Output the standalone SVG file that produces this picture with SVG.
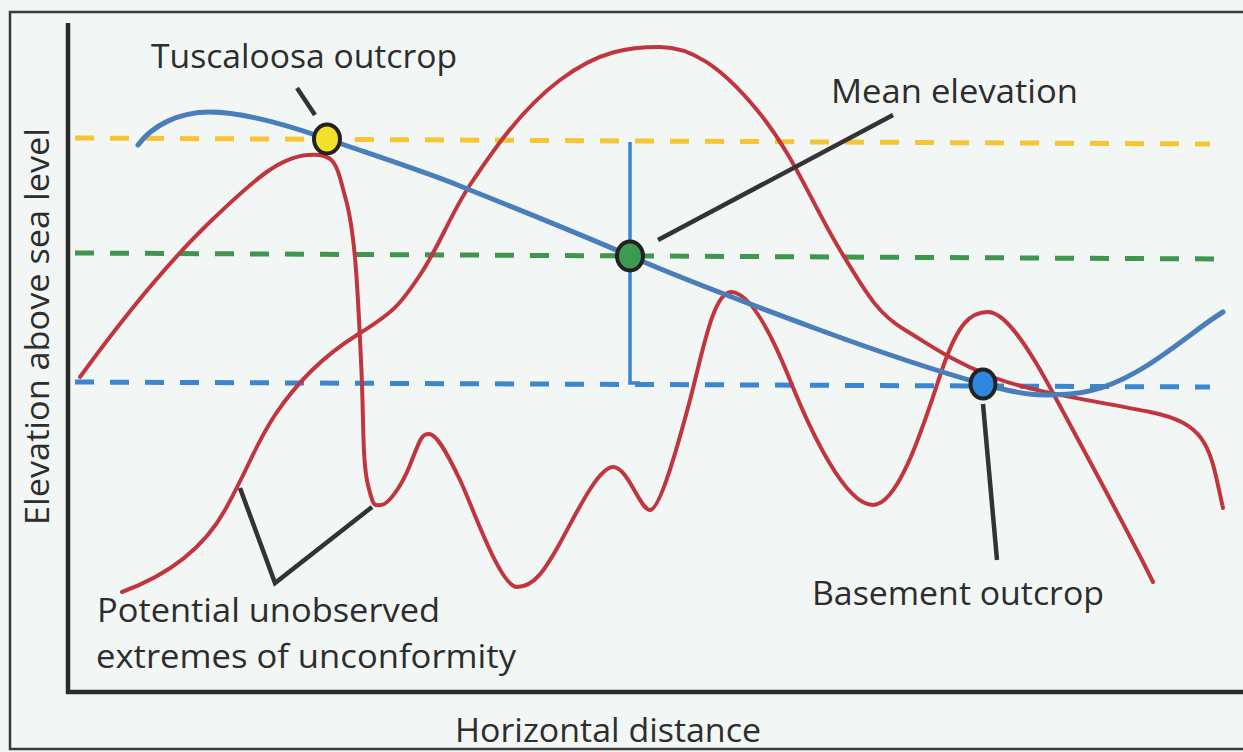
<svg xmlns="http://www.w3.org/2000/svg" width="1243" height="752" viewBox="0 0 1243 752">
<style>
.lbl{font-family:"Open Sans","Liberation Sans",sans-serif;font-size:32px;fill:#2d2d2d}
.frame{fill:none;stroke:#3a3a3a;stroke-width:2.5}
.axis{fill:none;stroke:#2a2a2a;stroke-width:4.5}
.dash{fill:none;stroke-width:5;stroke-dasharray:19 16}
.red{fill:none;stroke:#C0353E;stroke-width:4;stroke-linecap:round;stroke-linejoin:round}
.topo{fill:none;stroke:#4A7EBB;stroke-width:5;stroke-linecap:round}
.lead{fill:none;stroke:#333;stroke-width:4.5}
.pt{stroke:#222;stroke-width:4}
</style>
<rect x="0" y="0" width="1243" height="752" fill="#F2F7F5"/>
<g id="frame">
<path class="frame" d="M1245,12 H10 V749 H1245"/>
</g>
<g id="axes">
<line class="axis" x1="68" y1="23" x2="68" y2="694"/>
<line class="axis" x1="66" y1="692" x2="1243" y2="692"/>
</g>
<g id="reference-lines">
<line class="dash" stroke="#F7C531" x1="75" y1="138" x2="1210" y2="144"/>
<line class="dash" stroke="#40964F" x1="75" y1="253" x2="1222" y2="259"/>
<line class="dash" stroke="#3A86D0" x1="75" y1="382" x2="1210" y2="387"/>
<path fill="none" stroke="#3A86D0" stroke-width="3.5" d="M630,142 V383 H640"/>
</g>
<g id="unconformity-curves">
<path class="red" d="M80,377 C120,322 168,262 212,220 S280,157 308,155 S336,163 346,200 S358,300 361,360 S362,460 368,485 S375,505 381,505 S400,490 410,465 S421,434 429,434 S448,455 460,480 S500,587 517,587 S545,570 560,543 S598,467 613,467 S640,510 650,510 S678,445 690,400 S713,292 731,292 S770,330 790,380 S845,505 873,505 S928,410 943,367 S970,312 988,312 S1030,350 1053,393 S1125,525 1153,582"/>
<path class="red" d="M122,592 C160,578 200,555 225,510 S255,445 275,415 S320,358 357,335 S400,305 420,275 S450,215 470,185 S520,110 560,80 S630,47 660,47 S720,65 757,110 S810,200 840,250 S880,315 905,330 S950,360 990,376 S1090,400 1150,412 S1210,450 1223,508"/>
</g>
<g id="topography">
<path class="topo" d="M138,145 C152,126 178,112 210,112 S290,126 327,139 S420,170 460,186 S580,234 630,256 S760,308 817,329 S940,372 983,384 S1040,396 1070,394 S1130,378 1160,357 S1205,323 1223,312"/>
</g>
<g id="connectors">
<line class="lead" x1="297" y1="88" x2="315" y2="115"/>
<line class="lead" x1="893" y1="115" x2="658" y2="240"/>
<line class="lead" x1="983" y1="404" x2="997" y2="560"/>
<polyline class="lead" points="240,488 275,583 372,507"/>
</g>
<g id="tuscaloosa-outcrop">
<ellipse class="pt" cx="327" cy="139" rx="13" ry="14.5" fill="#F4E02A"/>
<text class="lbl" x="151" y="68" textLength="306" lengthAdjust="spacingAndGlyphs">Tuscaloosa outcrop</text>
</g>
<g id="mean-elevation">
<ellipse class="pt" cx="630" cy="256" rx="13" ry="14.5" fill="#3E9A52"/>
<text class="lbl" x="831" y="103" textLength="247" lengthAdjust="spacingAndGlyphs">Mean elevation</text>
</g>
<g id="basement-outcrop">
<ellipse class="pt" cx="983" cy="384" rx="12.5" ry="14.5" fill="#2E86DE"/>
<text class="lbl" x="812" y="605" textLength="292" lengthAdjust="spacingAndGlyphs">Basement outcrop</text>
</g>
<g id="unobserved-extremes">
<text class="lbl" x="97" y="622" textLength="343" lengthAdjust="spacingAndGlyphs">Potential unobserved</text>
<text class="lbl" x="96" y="668" textLength="420" lengthAdjust="spacingAndGlyphs">extremes of unconformity</text>
</g>
<g id="axis-labels">
<text class="lbl" transform="translate(49,525) rotate(-90)" x="0" y="0" textLength="397" lengthAdjust="spacingAndGlyphs">Elevation above sea level</text>
<text class="lbl" x="455" y="742" textLength="306" lengthAdjust="spacingAndGlyphs">Horizontal distance</text>
</g>
</svg>
